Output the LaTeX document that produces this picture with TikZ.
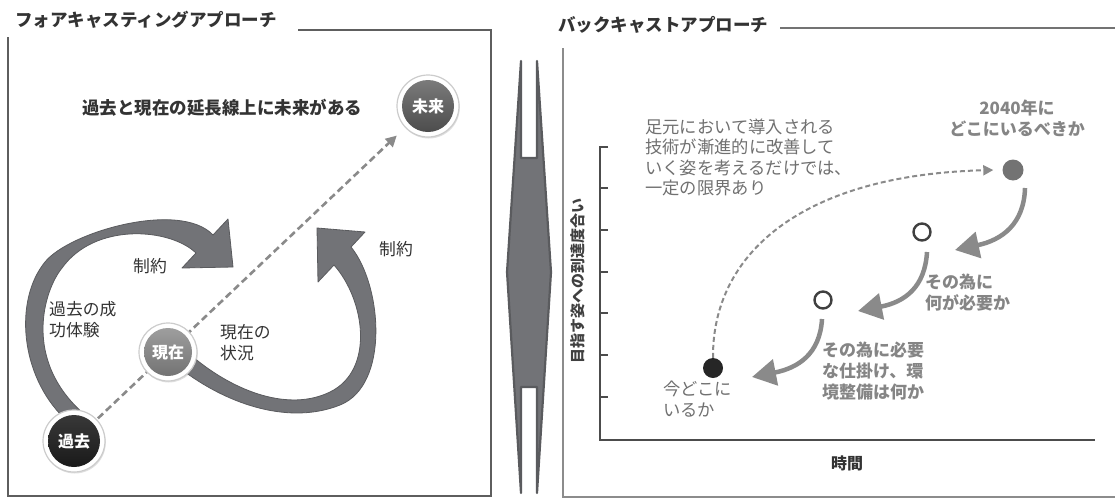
\documentclass[tikz,border=0pt]{standalone}
\usepackage{fontspec}
\setmainfont{Noto Sans CJK JP}
\usetikzlibrary{arrows.meta,backgrounds,shadows}
\definecolor{frame}{HTML}{5E5E5E}
\definecolor{ink}{HTML}{333333}
\definecolor{soft}{HTML}{707070}
\definecolor{arrowgray}{HTML}{727377}
\definecolor{arrowedge}{HTML}{5A5B5E}
\definecolor{light}{HTML}{8A8A8A}
\tikzset{
  panelline/.style={draw=frame, line width=1.8pt},
  hdr/.style={font=\fontsize{17.5}{20}\selectfont\bfseries, text=ink, inner sep=0pt},
  lbl/.style={font=\fontsize{16.8}{21}\selectfont, text=ink, inner sep=0pt, align=left},
  rlbl/.style={font=\fontsize{17.3}{20.5}\selectfont, text=soft, inner sep=0pt, align=left},
  rbold/.style={font=\fontsize{17}{21}\selectfont\bfseries, text=soft!85, inner sep=0pt, align=left},
  ringnode/.style={circle, fill=white, draw=black!20, line width=1.2pt, inner sep=0pt,
     drop shadow={opacity=0.25, shadow xshift=0.8pt, shadow yshift=-1.5pt}},
  ballnode/.style={circle, inner sep=0pt, text=white, font=\fontsize{16}{18}\selectfont\bfseries},
  bigarrow/.style={fill=arrowgray, draw=arrowedge, line width=0.8pt, line join=round},
  dashline/.style={draw=light, line width=2.6pt, dash pattern=on 7pt off 4pt, -{Triangle[length=11pt,width=11pt]}},
  smallarrow/.style={draw=light, line width=4.5pt, -{Triangle[length=24pt,width=26pt]}},
  dashcurve/.style={draw=light, line width=2pt, dash pattern=on 5pt off 3pt, -{Triangle[length=10pt,width=10pt]}},
  hollowdot/.style={circle, draw=black!75, line width=2.4pt, fill=white, minimum size=17pt, inner sep=0pt},
}
\begin{document}
\begin{tikzpicture}[x=1pt,y=-1pt]
\useasboundingbox (0,0) rectangle (1115,498);

% ===== Left panel =====
\node[hdr, anchor=west] (ltitle) at (15,20) {フォアキャスティングアプローチ};
\draw[panelline] (298,30) -- (491,30) -- (491,496) -- (8,496) -- (8,37);

\node[hdr] (claim) at (222,108) {過去と現在の延長線上に未来がある};

% circles
\node[ringnode, minimum size=62pt] (miraiR) at (428,106) {};
\node[ballnode, minimum size=52pt, top color=black!52, bottom color=black!70] (mirai) at (428,106) {未来};
\node[ringnode, minimum size=58pt] (genzaiR) at (168,352) {};
\node[ballnode, minimum size=48pt, top color=black!38, bottom color=black!55] (genzai) at (168,352) {現在};
\node[ringnode, minimum size=62pt] (kakoR) at (74,441) {};
\node[ballnode, minimum size=52pt, top color=black!78, bottom color=black!90] (kako) at (74,441) {過去};

\begin{scope}[on background layer]
  % big curved arrow 1 (from kako over the top)
  \filldraw[bigarrow] (64,418) .. controls (20,375) and (14,300) .. (45,262)
     .. controls (69,232) and (180,200) .. (213,235)
     -- (228,219) -- (233,267) -- (182,268) -- (196,253)
     .. controls (170,228) and (95,222) .. (62,268)
     .. controls (44,290) and (22,360) .. (84,414) -- cycle;
  % big curved arrow 2 (from genzai around the bottom right)
  \filldraw[bigarrow] (185,372) .. controls (230,405) and (290,425) .. (340,405)
     .. controls (390,385) and (382,285) .. (351,247)
     -- (365,232) -- (317,228) -- (318,282) -- (334,265)
     .. controls (365,300) and (375,370) .. (330,392)
     .. controls (289,412) and (235,392) .. (193,357) -- cycle;
  % dashed extension line
  \draw[dashline, shorten >=43pt] (kako.center) -- (mirai.center);
\end{scope}

\node[lbl] (seiyaku1) at (150,266) {制約};
\node[lbl] (seiyaku2) at (396,249) {制約};
\node[lbl, anchor=west] (seiko) at (49,320) {過去の成\\功体験};
\node[lbl, anchor=west] (jokyo) at (220,343) {現在の\\状況};

% ===== Divider =====
\filldraw[fill=arrowgray, draw=arrowedge, line width=2.2pt, line join=round]
  (521,61) -- (507,272) -- (521,493) -- (521,387) -- (537,387) -- (537,493)
  -- (551,272) -- (537,61) -- (537,158) -- (521,158) -- cycle;

% ===== Right panel =====
\node[hdr, anchor=west] (rtitle) at (558,25) {バックキャストアプローチ};
\draw[draw=black!55, line width=1.5pt] (780,28) -- (1115,28);
\draw[draw=black!45, line width=1.5pt] (563,48) -- (563,497) -- (1115,497);

% axes
\draw[draw=black!70, line width=2.4pt] (608,147) -- (600,147) -- (600,440) -- (1095,440);
\foreach \ty in {188,230,272,313,355,397} {
  \draw[draw=black!70, line width=1.6pt] (600,\ty) -- (608,\ty);
}
\node[hdr, font=\fontsize{15}{18}\selectfont\bfseries, text=black!75, rotate=90] (ylab) at (578,281) {目指す姿への到達度合い};
\node[hdr, font=\fontsize{16}{18}\selectfont\bfseries, text=black!80] (xlab) at (847,463) {時間};

% points
\node[circle, fill=black!55, minimum size=21pt, inner sep=0pt] (goal) at (1013,170) {};
\node[hollowdot] (mid1) at (922,232) {};
\node[hollowdot] (mid2) at (823,300) {};
\node[circle, fill=black!85, minimum size=20pt, inner sep=0pt] (now) at (713,368) {};

% connectors
\draw[dashcurve] (now.north) .. controls (712,255) and (800,175) .. ([xshift=-9pt]goal.west);
\draw[smallarrow] ([shift={(12,18)}]goal.center) .. controls (1024,224) and (1002,240) .. (955,250);
\draw[smallarrow] ([shift={(5,20)}]mid1.center) .. controls (925,287) and (905,302) .. (858,311);
\draw[smallarrow] ([shift={(-1,19)}]mid2.center) .. controls (820,354) and (798,368) .. (752,377);

% labels
\node[rlbl, anchor=west] (note) at (645,157.5) {足元において導入される\\技術が漸進的に改善して\\いく姿を考えるだけでは、\\一定の限界あり};
\node[rbold, align=center] (goaltxt) at (1017,118) {2040年に\\どこにいるべきか};
\node[rbold, anchor=west] (need1) at (925,293) {その為に\\何が必要か};
\node[rbold, anchor=west] (need2) at (822,371.5) {その為に必要\\な仕掛け、環\\境整備は何か};
\node[rlbl, anchor=west] (nowtxt) at (663,399) {今どこに\\いるか};
\end{tikzpicture}
\end{document}
